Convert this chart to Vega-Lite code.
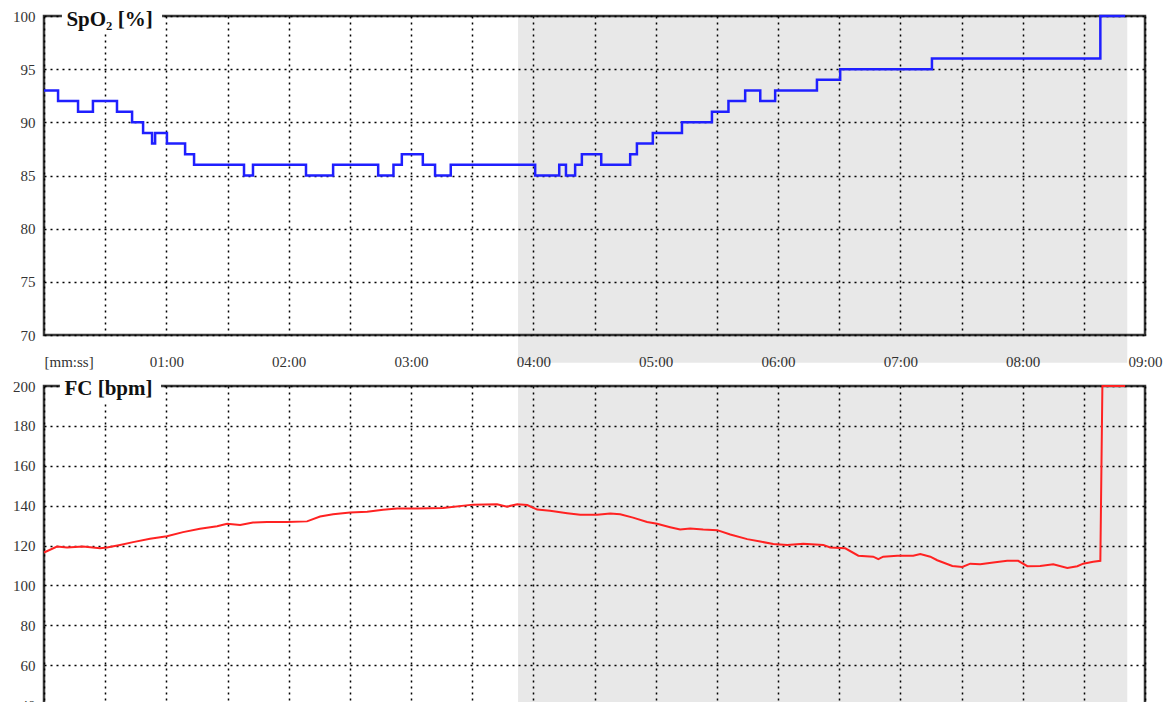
{
  "$schema": "https://vega.github.io/schema/vega-lite/v6.json",
  "background": "white",
  "padding": {"left": 11, "top": 7, "right": 0, "bottom": 0},
  "spacing": 5,
  "config": {
    "view": {"stroke": "#3a3a3a", "strokeWidth": 2.5},
    "font": "Liberation Serif",
    "axis": {
      "labelFont": "Liberation Serif",
      "labelFontSize": 15,
      "labelColor": "#333",
      "ticks": false,
      "domain": false,
      "grid": true,
      "gridColor": "#000",
      "gridDash": [2, 4],
      "gridWidth": 1.5,
      "title": null
    },
    "axisX": {
      "labelExpr": "datum.value == 0 ? '[mm:ss]' : (datum.value % 60 == 0 ? '0' + floor(datum.value / 60) + ':00' : '')",
      "labelAlign": {"condition": {"test": "datum.value == 0", "value": "left"}, "value": "center"},
      "labelFlush": false,
      "labelOverlap": false,
      "labelPadding": 19
    },
    "axisY": {"labelPadding": 9}
  },
  "datasets": {
    "spo2": [
      {"t": 0, "v": 93}, {"t": 6.9, "v": 92}, {"t": 16.7, "v": 91}, {"t": 24, "v": 92},
      {"t": 35.8, "v": 91}, {"t": 43.2, "v": 90}, {"t": 48.6, "v": 89}, {"t": 53, "v": 88},
      {"t": 54.5, "v": 89}, {"t": 60.3, "v": 88}, {"t": 69.2, "v": 87}, {"t": 73.6, "v": 86},
      {"t": 98.1, "v": 85}, {"t": 102.5, "v": 86}, {"t": 128.5, "v": 85}, {"t": 141.8, "v": 86},
      {"t": 163.9, "v": 85}, {"t": 171.4, "v": 86}, {"t": 175.5, "v": 87}, {"t": 185.8, "v": 86},
      {"t": 191.8, "v": 85}, {"t": 199.5, "v": 86}, {"t": 240.9, "v": 85}, {"t": 252.7, "v": 86},
      {"t": 256, "v": 85}, {"t": 260.5, "v": 86}, {"t": 263.8, "v": 87}, {"t": 273.3, "v": 86},
      {"t": 287.5, "v": 87}, {"t": 290.8, "v": 88}, {"t": 298.6, "v": 89}, {"t": 312.9, "v": 90},
      {"t": 327.6, "v": 91}, {"t": 335.7, "v": 92}, {"t": 343.9, "v": 93}, {"t": 351.3, "v": 92},
      {"t": 358.6, "v": 93}, {"t": 379.1, "v": 94}, {"t": 390.5, "v": 95}, {"t": 435.5, "v": 96},
      {"t": 518.1, "v": 100}, {"t": 530.3, "v": 100}
    ],
    "fc": [
      {"t": 0, "v": 116.5}, {"t": 6.4, "v": 119.5}, {"t": 11.3, "v": 119}, {"t": 19.1, "v": 119.5},
      {"t": 27.5, "v": 118.6}, {"t": 30.9, "v": 119}, {"t": 37.3, "v": 120.3}, {"t": 43.7, "v": 121.7},
      {"t": 52, "v": 123.4}, {"t": 60.3, "v": 124.6}, {"t": 68.2, "v": 126.7}, {"t": 76.5, "v": 128.4},
      {"t": 84.9, "v": 129.7}, {"t": 89.8, "v": 130.9}, {"t": 96.2, "v": 130.3}, {"t": 102.5, "v": 131.5},
      {"t": 109.4, "v": 131.8}, {"t": 119.2, "v": 131.8}, {"t": 129, "v": 132.1}, {"t": 135.4, "v": 134.5},
      {"t": 141.8, "v": 135.7}, {"t": 150.1, "v": 136.6}, {"t": 158.5, "v": 136.9}, {"t": 166.3, "v": 137.9},
      {"t": 173.2, "v": 138.6}, {"t": 183, "v": 138.5}, {"t": 195.7, "v": 138.8}, {"t": 210.5, "v": 140.5},
      {"t": 222.2, "v": 140.7}, {"t": 227.1, "v": 139.5}, {"t": 232.1, "v": 140.7}, {"t": 237, "v": 140.3},
      {"t": 241.9, "v": 138}, {"t": 248.2, "v": 137.4}, {"t": 256.6, "v": 136.2}, {"t": 263, "v": 135.4},
      {"t": 271.3, "v": 135.4}, {"t": 277.7, "v": 136.1}, {"t": 282.6, "v": 135.7}, {"t": 288.9, "v": 134},
      {"t": 295.8, "v": 131.8}, {"t": 300.7, "v": 130.9}, {"t": 307.1, "v": 129.2}, {"t": 312, "v": 128},
      {"t": 316.9, "v": 128.5}, {"t": 323.3, "v": 128}, {"t": 330.2, "v": 127.7}, {"t": 336.6, "v": 125.5},
      {"t": 344.9, "v": 123.2}, {"t": 351.3, "v": 122}, {"t": 357.7, "v": 120.7}, {"t": 364.5, "v": 120.3},
      {"t": 372.4, "v": 120.9}, {"t": 382.2, "v": 120.3}, {"t": 385.6, "v": 119}, {"t": 393, "v": 118.6},
      {"t": 399.4, "v": 114.9}, {"t": 406.7, "v": 114.4}, {"t": 409.2, "v": 113.2}, {"t": 411.6, "v": 114.4},
      {"t": 418.5, "v": 114.9}, {"t": 426.3, "v": 114.9}, {"t": 429.8, "v": 115.7}, {"t": 434.7, "v": 114.4},
      {"t": 438.1, "v": 112.6}, {"t": 445.5, "v": 109.7}, {"t": 450.4, "v": 109.2}, {"t": 454.3, "v": 110.9},
      {"t": 459.2, "v": 110.6}, {"t": 465.6, "v": 111.5}, {"t": 472.4, "v": 112.3}, {"t": 477.8, "v": 112.3},
      {"t": 482.3, "v": 109.6}, {"t": 488.6, "v": 109.7}, {"t": 495, "v": 110.6}, {"t": 501.9, "v": 108.7},
      {"t": 506.8, "v": 109.6}, {"t": 509.7, "v": 110.9}, {"t": 514.6, "v": 111.8}, {"t": 518.1, "v": 112.3},
      {"t": 519.1, "v": 200}, {"t": 530.3, "v": 200}
    ],
    "band": [{"start": 232.5, "end": 531.3}]
  },
  "vconcat": [
    {
      "width": 1101,
      "height": 319,
      "layer": [
        {
          "data": {"name": "band"},
          "mark": {"type": "rect", "color": "#000", "opacity": 0.09},
          "encoding": {
            "x": {
              "field": "start", "type": "quantitative",
              "scale": {"domain": [0, 540], "nice": false, "zero": false},
              "axis": {"values": [0, 30, 60, 90, 120, 150, 180, 210, 240, 270, 300, 330, 360, 390, 420, 450, 480, 510, 540], "title": null}
            },
            "x2": {"field": "end"},
            "y": {
              "datum": 100, "type": "quantitative",
              "scale": {"domain": [70, 100], "nice": false, "zero": false},
              "axis": {"values": [70, 75, 80, 85, 90, 95, 100], "title": null}
            },
            "y2": {"datum": 67.4}
          }
        },
        {
          "data": {"values": [{}]},
          "mark": {"type": "rect", "color": "white"},
          "encoding": {
            "x": {"datum": 8.8, "type": "quantitative", "axis": {"values": [0, 30, 60, 90, 120, 150, 180, 210, 240, 270, 300, 330, 360, 390, 420, 450, 480, 510, 540], "title": null}},
            "x2": {"datum": 57.9},
            "y": {"datum": 100.7, "type": "quantitative", "axis": {"values": [70, 75, 80, 85, 90, 95, 100], "title": null}},
            "y2": {"datum": 98.3}
          }
        },
        {
          "data": {"values": [{}]},
          "mark": {"type": "text", "text": "SpO₂ [%]", "align": "left", "baseline": "middle", "dy": 3.5, "font": "Liberation Serif", "fontWeight": "bold", "fontSize": 21, "color": "#111"},
          "encoding": {
            "x": {"datum": 11, "type": "quantitative", "axis": {"values": [0, 30, 60, 90, 120, 150, 180, 210, 240, 270, 300, 330, 360, 390, 420, 450, 480, 510, 540], "title": null}},
            "y": {"datum": 100, "type": "quantitative", "axis": {"values": [70, 75, 80, 85, 90, 95, 100], "title": null}}
          }
        },
        {
          "data": {"name": "spo2"},
          "mark": {"type": "line", "interpolate": "step-after", "color": "#1f1fff", "strokeWidth": 2.5},
          "encoding": {
            "x": {"field": "t", "type": "quantitative", "axis": {"values": [0, 30, 60, 90, 120, 150, 180, 210, 240, 270, 300, 330, 360, 390, 420, 450, 480, 510, 540], "title": null}},
            "y": {"field": "v", "type": "quantitative", "axis": {"values": [70, 75, 80, 85, 90, 95, 100], "title": null}}
          }
        }
      ]
    },
    {
      "width": 1101,
      "height": 319,
      "layer": [
        {
          "data": {"name": "band"},
          "mark": {"type": "rect", "color": "#000", "opacity": 0.09},
          "encoding": {
            "x": {
              "field": "start", "type": "quantitative",
              "scale": {"domain": [0, 540], "nice": false, "zero": false},
              "axis": {"values": [0, 30, 60, 90, 120, 150, 180, 210, 240, 270, 300, 330, 360, 390, 420, 450, 480, 510, 540], "labels": false, "title": null}
            },
            "x2": {"field": "end"},
            "y": {
              "datum": 200, "type": "quantitative",
              "scale": {"domain": [40, 200], "nice": false, "zero": false},
              "axis": {"values": [40, 60, 80, 100, 120, 140, 160, 180, 200], "title": null}
            },
            "y2": {"datum": 40}
          }
        },
        {
          "data": {"values": [{}]},
          "mark": {"type": "rect", "color": "white"},
          "encoding": {
            "x": {"datum": 7.8, "type": "quantitative", "axis": {"values": [0, 30, 60, 90, 120, 150, 180, 210, 240, 270, 300, 330, 360, 390, 420, 450, 480, 510, 540], "labels": false, "title": null}},
            "x2": {"datum": 57.4},
            "y": {"datum": 203, "type": "quantitative", "axis": {"values": [40, 60, 80, 100, 120, 140, 160, 180, 200], "title": null}},
            "y2": {"datum": 192.5}
          }
        },
        {
          "data": {"values": [{}]},
          "mark": {"type": "text", "text": "FC [bpm]", "align": "left", "baseline": "middle", "dy": 2.5, "font": "Liberation Serif", "fontWeight": "bold", "fontSize": 21, "color": "#111"},
          "encoding": {
            "x": {"datum": 10, "type": "quantitative", "axis": {"values": [0, 30, 60, 90, 120, 150, 180, 210, 240, 270, 300, 330, 360, 390, 420, 450, 480, 510, 540], "labels": false, "title": null}},
            "y": {"datum": 200, "type": "quantitative", "axis": {"values": [40, 60, 80, 100, 120, 140, 160, 180, 200], "title": null}}
          }
        },
        {
          "data": {"name": "fc"},
          "mark": {"type": "line", "color": "#ff2222", "strokeWidth": 2},
          "encoding": {
            "x": {"field": "t", "type": "quantitative", "axis": {"values": [0, 30, 60, 90, 120, 150, 180, 210, 240, 270, 300, 330, 360, 390, 420, 450, 480, 510, 540], "labels": false, "title": null}},
            "y": {"field": "v", "type": "quantitative", "axis": {"values": [40, 60, 80, 100, 120, 140, 160, 180, 200], "title": null}}
          }
        }
      ]
    }
  ]
}
